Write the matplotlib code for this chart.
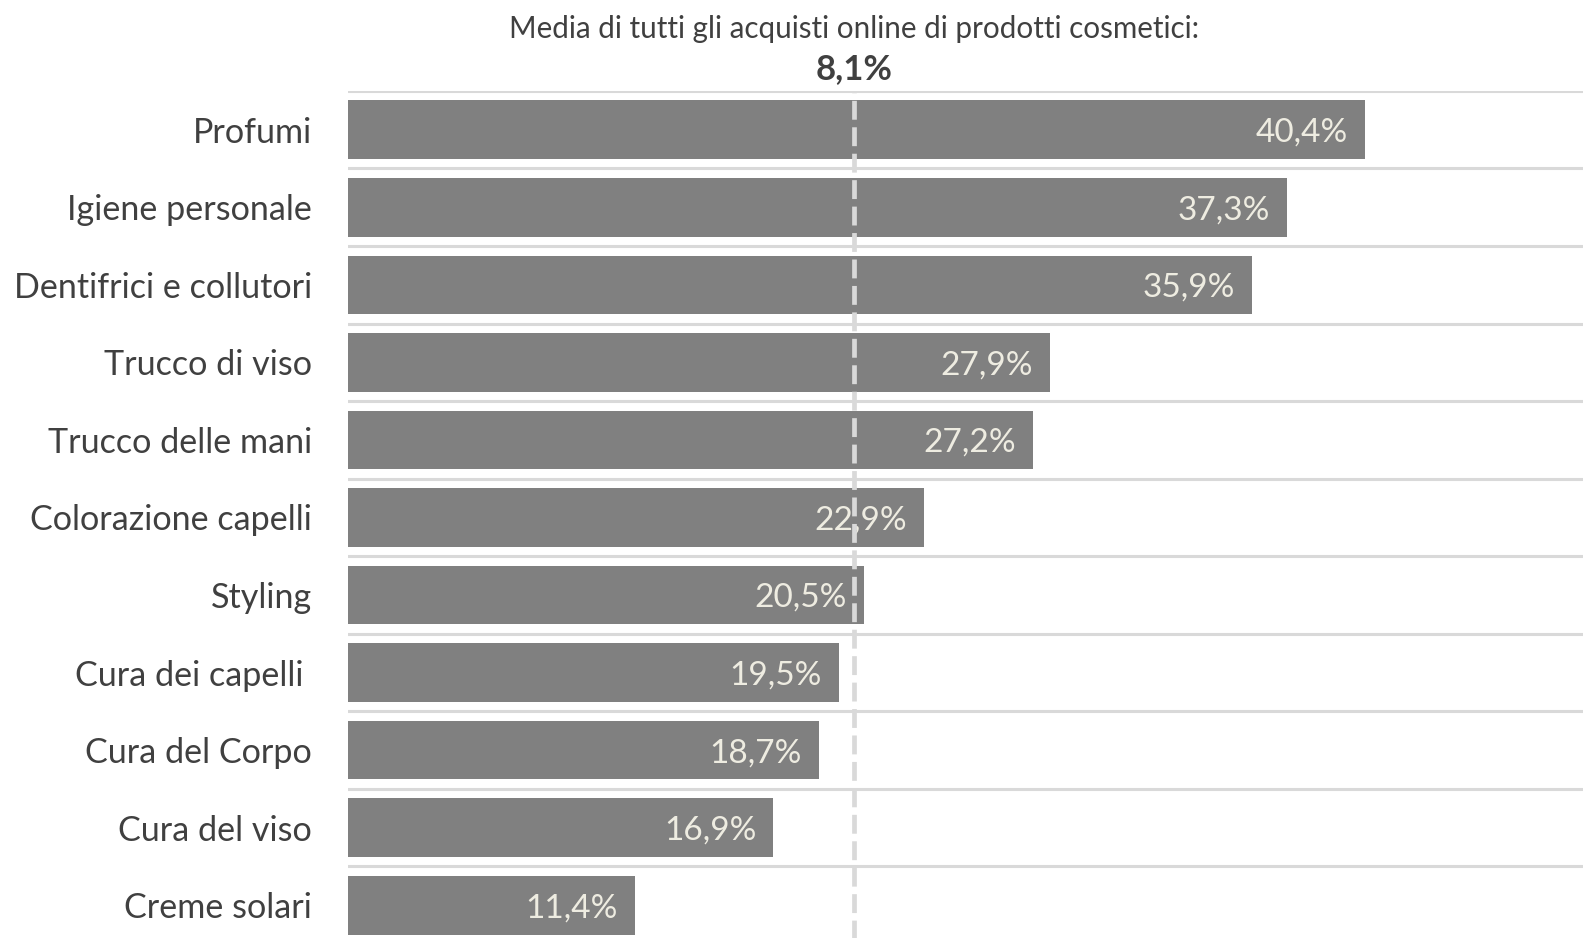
import matplotlib

matplotlib.use("Agg")
import matplotlib.pyplot as plt
import matplotlib.transforms as mtransforms

# Online share of cosmetic purchases by product category
categories = [
    "Profumi",
    "Igiene personale",
    "Dentifrici e collutori",
    "Trucco di viso",
    "Trucco delle mani",
    "Colorazione capelli",
    "Styling",
    "Cura dei capelli ",
    "Cura del Corpo",
    "Cura del viso",
    "Creme solari",
]
online_share = [40.4, 37.3, 35.9, 27.9, 27.2, 22.9, 20.5, 19.5, 18.7, 16.9, 11.4]
average_share = 8.1
average_title = "Media di tutti gli acquisti online di prodotti cosmetici:"

# The average line sits on its own (hidden) secondary scale
primary_max = 49.07
secondary_max = 19.78

BAR_COLOR = "#808080"
LABEL_COLOR = "#EEECE1"
TEXT_COLOR = "#404040"
GRID_COLOR = "#D9D9D9"

plt.rcParams["font.family"] = ["Lato", "DejaVu Sans"]


def fmt_pct(v):
    return f"{v:.1f}".replace(".", ",") + "%"


fig = plt.figure(figsize=(15.83, 9.38), dpi=100)
ax = fig.add_axes([0.2198, -0.0064, 0.7802, 0.9095])

n = len(categories)
pos = list(range(n))
bars = ax.barh(pos, online_share, height=0.755, color=BAR_COLOR, zorder=2)

# Category separators
for b in range(n + 1):
    ax.axhline(b - 0.5, color=GRID_COLOR, lw=2.2, zorder=1)

ax.set_xlim(0, primary_max)
ax.set_ylim(n - 0.5, -0.5)
ax.set_yticks(pos)
ax.set_yticklabels(categories, fontsize=24.6, color=TEXT_COLOR)
ax.tick_params(axis="y", length=0, pad=26)
ax.set_xticks([])
for s in ax.spines.values():
    s.set_visible(False)

for rect, v in zip(bars, online_share):
    ax.annotate(
        fmt_pct(v),
        xy=(v, rect.get_y() + rect.get_height() / 2),
        xytext=(-17, -3),
        textcoords="offset pixels",
        ha="right",
        va="center",
        fontsize=24,
        color=LABEL_COLOR,
        zorder=4,
    )

# Average reference line
ax2 = ax.twiny()
ax2.set_xlim(0, secondary_max)
ax2.axis("off")
ax2.axvline(average_share, color=GRID_COLOR, lw=3.4, ls=(0, (4, 1.6)), zorder=3)

trans = mtransforms.blended_transform_factory(ax2.transData, fig.transFigure)
ax2.text(
    average_share, 0.969, average_title,
    transform=trans, ha="center", va="center", fontsize=21.3, color=TEXT_COLOR,
)
ax2.text(
    average_share, 0.926, fmt_pct(average_share),
    transform=trans, ha="center", va="center", fontsize=25,
    fontweight="bold", color=TEXT_COLOR,
)

fig.savefig("out.png", dpi=100)
